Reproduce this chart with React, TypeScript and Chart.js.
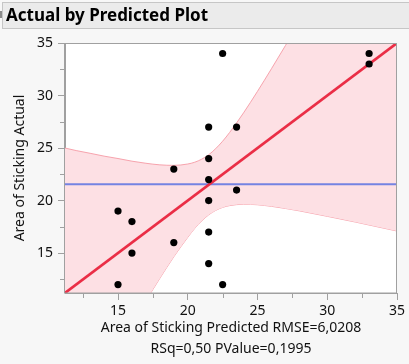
import React, { useEffect, useRef } from "react";
import { Chart, registerables } from "chart.js";

Chart.register(...registerables);

// ---- data ----
const predicted = [15, 15, 16, 16, 19, 19, 21.5, 21.5, 21.5, 21.5, 21.5, 21.5, 22.5, 22.5, 23.5, 23.5, 33, 33];
const actual = [19, 12, 18, 15, 23, 16, 27, 24, 22, 20, 17, 14, 34, 12, 27, 21, 34, 33];

// fit line (actual vs predicted) end points
const fitX = [11.2, 35];
const fitY = [11.2, 35];

// mean of actual (horizontal reference line)
const meanX = [11.2, 35];
const meanY = [21.56, 21.56];

// confidence band curves, sampled along predicted axis
const bandX = [11.2, 12, 13, 14, 15, 16, 17, 18, 19, 20, 20.5, 21, 21.5, 22, 22.5, 23, 24, 25, 26, 27, 28, 30, 32, 35];
const bandUpper = [25.0, 24.76, 24.5, 24.23, 24.0, 23.75, 23.55, 23.4, 23.35, 23.48, 23.65, 23.94, 24.36, 24.94, 25.65, 26.48, 28.35, 30.4, 32.55, 34.75, 37.0, 41.5, 46.0, 52.9];
const bandLower = [-2.6, -0.76, 1.5, 3.77, 6.0, 8.25, 10.45, 12.6, 14.65, 16.5, 17.35, 18.06, 18.64, 19.06, 19.35, 19.52, 19.65, 19.6, 19.45, 19.25, 19.02, 18.5, 17.96, 17.1];

// axes
const axisMin = 11.2;
const axisMax = 35;
const majorTicks = [15, 20, 25, 30, 35];
const minorTicks = [12.5, 17.5, 22.5, 27.5, 32.5];

const titleText = "Actual by Predicted Plot";
const xTitle = ["Area of Sticking Predicted RMSE=6,0208", "RSq=0,50 PValue=0,1995"];
const yTitle = "Area of Sticking Actual";

const FONT = "'Noto Sans', 'DejaVu Sans', sans-serif";
const AXIS_COLOR = "#a0a0a0";

const frameAndMinor = {
  id: "frameAndMinor",
  beforeDraw(chart: any) {
    const { ctx, chartArea: a } = chart;
    ctx.save();
    ctx.fillStyle = "#ffffff";
    ctx.fillRect(a.left, a.top, a.right - a.left, a.bottom - a.top);
    ctx.restore();
  },
  afterDraw(chart: any) {
    const { ctx, chartArea: a, scales } = chart;
    ctx.save();
    ctx.strokeStyle = AXIS_COLOR;
    ctx.lineWidth = 1;
    ctx.strokeRect(Math.round(a.left) - 0.5, Math.round(a.top) + 0.5, Math.round(a.right - a.left), Math.round(a.bottom - a.top) - 0.5);
    ctx.beginPath();
    for (const v of minorTicks) {
      const px = Math.round(scales.x.getPixelForValue(v)) + 0.5;
      ctx.moveTo(px, a.bottom);
      ctx.lineTo(px, a.bottom + 5);
      const py = Math.round(scales.y.getPixelForValue(v)) + 0.5;
      ctx.moveTo(a.left, py);
      ctx.lineTo(a.left - 5, py);
    }
    ctx.stroke();
    ctx.restore();
  },
};

export default function App() {
  const ref = useRef<HTMLCanvasElement | null>(null);

  useEffect(() => {
    document.body.style.margin = "0";
    const canvas = ref.current;
    if (!canvas) return;
    const pts = predicted.map((x, i) => ({ x, y: actual[i] }));
    const chart = new Chart(canvas, {
      type: "line",
      data: {
        datasets: [
          {
            label: "upper",
            data: bandX.map((x, i) => ({ x, y: bandUpper[i] })),
            borderColor: "#f7a3ad",
            borderWidth: 1,
            backgroundColor: "#fde0e4",
            fill: "+1",
            pointRadius: 0,
            cubicInterpolationMode: "monotone",
            order: 4,
          },
          {
            label: "lower",
            data: bandX.map((x, i) => ({ x, y: bandLower[i] })),
            borderColor: "#f7a3ad",
            borderWidth: 1,
            fill: false,
            pointRadius: 0,
            cubicInterpolationMode: "monotone",
            order: 4,
          },
          {
            label: "mean",
            data: meanX.map((x, i) => ({ x, y: meanY[i] })),
            borderColor: "#7483e2",
            borderWidth: 2,
            pointRadius: 0,
            fill: false,
            order: 2,
          },
          {
            label: "fit",
            data: fitX.map((x, i) => ({ x, y: fitY[i] })),
            borderColor: "#ea2e46",
            borderWidth: 2.6,
            pointRadius: 0,
            fill: false,
            order: 1,
          },
          {
            label: "points",
            data: pts,
            showLine: false,
            pointRadius: 3.6,
            pointBorderWidth: 0,
            pointBackgroundColor: "#000000",
            borderColor: "#000000",
            order: 0,
          },
        ],
      },
      options: {
        animation: false,
        responsive: false,
        layout: { padding: { top: 43, right: 12, left: 0, bottom: 0 } },
        plugins: { legend: { display: false }, tooltip: { enabled: false } },
        scales: {
          x: {
            type: "linear",
            min: axisMin,
            max: axisMax,
            afterBuildTicks: (s: any) => {
              s.ticks = majorTicks.map((v) => ({ value: v }));
            },
            afterFit: (s: any) => {
              s.height = 71;
            },
            grid: { drawOnChartArea: false, tickLength: 7, color: AXIS_COLOR },
            border: { color: AXIS_COLOR },
            ticks: { color: "#111", font: { family: FONT, size: 14 }, padding: 3, maxRotation: 0 },
            title: {
              display: true,
              text: xTitle,
              color: "#111",
              font: { family: FONT, size: 14, lineHeight: 1.5 },
              padding: { top: 0, bottom: 4 },
            },
          },
          y: {
            type: "linear",
            min: axisMin,
            max: axisMax,
            afterBuildTicks: (s: any) => {
              s.ticks = majorTicks.map((v) => ({ value: v }));
            },
            afterFit: (s: any) => {
              s.width = 65;
            },
            grid: { drawOnChartArea: false, tickLength: 7, color: AXIS_COLOR },
            border: { color: AXIS_COLOR },
            ticks: { color: "#111", font: { family: FONT, size: 14 }, padding: 5 },
            title: {
              display: true,
              text: yTitle,
              color: "#111",
              font: { family: FONT, size: 14, lineHeight: 1.5 },
              padding: { top: 10, bottom: 0 },
            },
          },
        },
      },
      plugins: [frameAndMinor],
    } as any);
    return () => chart.destroy();
  }, []);

  return (
    <div style={{ position: "fixed", left: 0, top: 0, width: 409, height: 364, background: "#f7f7f7", overflow: "hidden" }}>
      <canvas ref={ref} width={409} height={364} style={{ position: "absolute", left: 0, top: 0 }} />
      <div
        style={{
          position: "absolute",
          left: 2,
          top: 2,
          width: 420,
          height: 25,
          border: "1px solid #c6c6c6",
          background: "#ebebeb",
          boxSizing: "content-box",
        }}
      />
      <div style={{ position: "absolute", left: 0, top: 11, width: 2, height: 7, background: "#8a8a8a" }} />
      <div
        style={{
          position: "absolute",
          left: 6,
          top: 3,
          lineHeight: "24px",
          fontFamily: FONT,
          fontWeight: 700,
          fontSize: 17,
          color: "#000",
          whiteSpace: "nowrap",
        }}
      >
        {titleText}
      </div>
    </div>
  );
}
